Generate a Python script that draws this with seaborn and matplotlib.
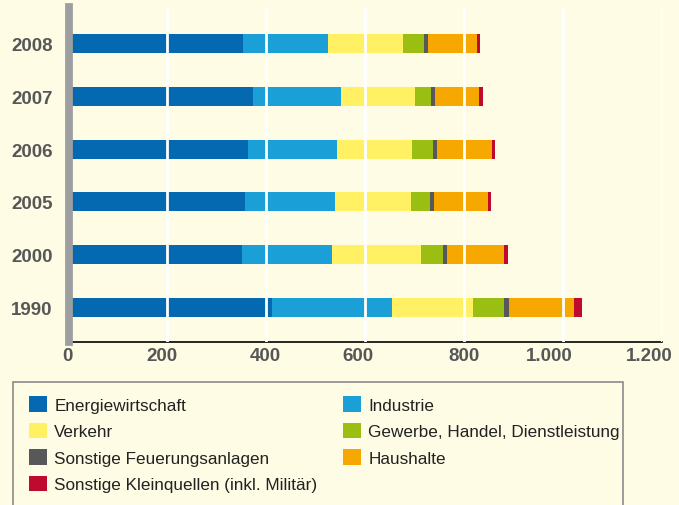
import numpy as np
import pandas as pd
import matplotlib
matplotlib.use('Agg')
import matplotlib.pyplot as plt
import seaborn as sns
from matplotlib.patches import Patch, Rectangle
from matplotlib.ticker import FuncFormatter
from matplotlib.transforms import ScaledTranslation

sns.set_style('white')
plt.rcParams['font.family'] = ['Liberation Sans', 'DejaVu Sans']

years = ["2008", "2007", "2006", "2005", "2000", "1990"]
energie = [354, 374, 364, 358, 352, 413]
industrie = [172, 178, 180, 182, 182, 242]
verkehr = [151, 150, 152, 154, 180, 164]
gewerbe = [43, 32, 42, 38, 44, 62]
feuerung = [8, 8, 8, 7, 8, 10]
haushalte = [99, 89, 111, 110, 115, 132]
klein = [6, 8, 6, 6, 8, 16]

labels = ["Energiewirtschaft", "Industrie", "Verkehr",
          "Gewerbe, Handel, Dienstleistung", "Sonstige Feuerungsanlagen",
          "Haushalte", "Sonstige Kleinquellen (inkl. Militär)"]
colors = ["#0469b0", "#1a9fd6", "#fff064", "#9abf12", "#58585a",
          "#f6a800", "#be0a2e"]
series = [energie, industrie, verkehr, gewerbe, feuerung, haushalte, klein]

bg = "#fefce4"
df = pd.DataFrame(dict(zip(labels, series)), index=years)
cum = df.cumsum(axis=1)

fig = plt.figure(figsize=(6.79, 5.06), dpi=100, facecolor=bg)
ax = fig.add_axes([67.7/679, 1-343/506, 594/679, 335/506], facecolor=bg)

# stacked bars: draw cumulative totals from the outermost segment inwards
for lab, col in reversed(list(zip(labels, colors))):
    sns.barplot(x=cum[lab].values, y=years, orient='h', color=col,
                saturation=1, width=0.36, ax=ax, linewidth=0)

ax.set_xlim(0, 1200)
ax.set_ylim(5.65, -0.69)
ax.set_xticks(range(0, 1201, 200))
ax.xaxis.set_major_formatter(FuncFormatter(lambda v, p: f"{int(v):,}".replace(",", ".")))
ax.set_xlabel("")
ax.set_ylabel("")

ax.set_axisbelow(False)
ax.xaxis.grid(True, color='white', linewidth=2)
ax.get_xgridlines()[0].set_visible(False)

for s in ['top', 'right']:
    ax.spines[s].set_visible(False)
ax.spines['left'].set_color('#9d9ea0')
ax.spines['left'].set_linewidth(5.6)
ax.spines['left'].set_position(('data', 3))
ax.spines['left'].set_zorder(3)
ax.spines['bottom'].set_color('black')
ax.spines['bottom'].set_linewidth(1.2)

ax.tick_params(axis='x', direction='in', length=9, width=1, color='black',
               pad=3.7, labelsize=13.5, labelcolor='#575757')
ax.tick_params(axis='y', length=0, pad=12, labelsize=13.5, labelcolor='#575757')
for t in ax.get_xticklabels() + ax.get_yticklabels():
    t.set_fontweight('bold')

# the original nudges a few axis numbers to the left
shifts = [0, -5, 0, -7, 0, -13, -12]
for t, dx in zip(ax.get_xticklabels(), shifts):
    t.set_transform(t.get_transform() + ScaledTranslation(dx/100, 0, fig.dpi_scale_trans))

# legend box runs off the bottom of the figure
fig.patches.append(Rectangle((13/679, -0.05), 610/679, (506-383)/506 + 0.05,
                             transform=fig.transFigure, facecolor='none',
                             edgecolor='#8a8a8a', linewidth=1.2))

order = [0, 2, 4, 6, 1, 3, 5]
handles = [Patch(facecolor=colors[i], edgecolor='none') for i in order]
fig.legend(handles, [labels[i] for i in order], ncol=2, frameon=False,
           loc='upper left', bbox_to_anchor=(29/679, 1-397/506),
           prop={'size': 12.3}, labelcolor='#222222',
           handlelength=1.035, handleheight=1.035,
           handletextpad=0.45, labelspacing=0.58, columnspacing=1.5,
           borderpad=0, borderaxespad=0)

fig.savefig('out.png', dpi=100, facecolor=bg)
